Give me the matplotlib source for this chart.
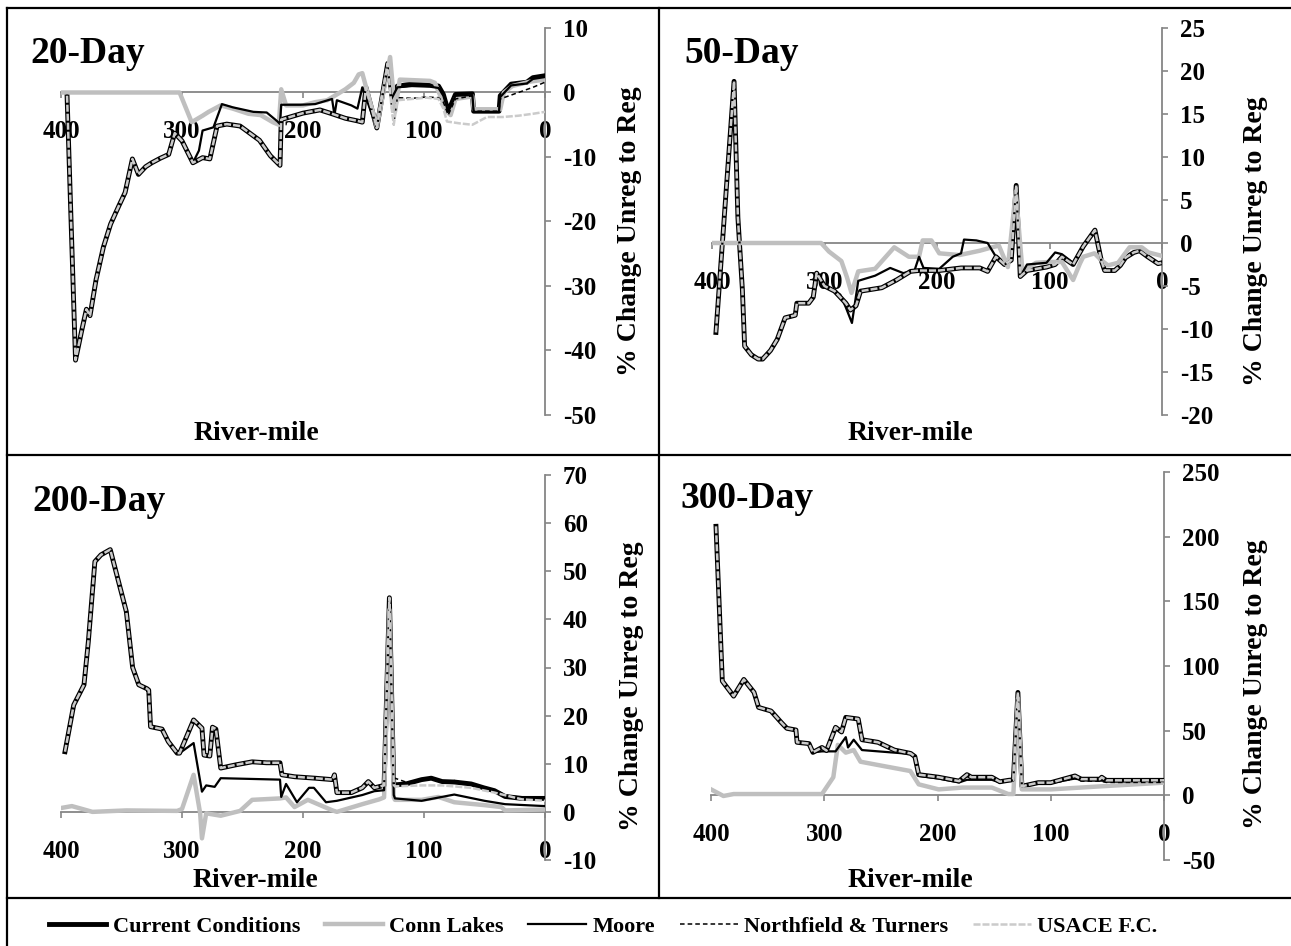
import matplotlib.pyplot as plt
from matplotlib.lines import Line2D

plt.rcParams['font.family'] = 'Liberation Serif'
plt.rcParams['font.weight'] = 'bold'
plt.rcParams['axes.unicode_minus'] = False

W, H = 1291, 946

# ---- 20-Day -------------------------------------------------------------
rm20 = [395, 388, 383, 379, 376, 371, 365, 359, 352, 347, 341, 336, 330, 325, 318, 311, 306, 300,
        291, 283, 277, 271, 263, 252, 236, 227, 219, 218, 200, 186, 176, 165, 155, 151, 148, 139,
        130, 126, 122, 110, 95, 88, 84, 80, 74, 60, 59, 38, 37, 28, 15, 10, 0]
cc20 = [-0.5, -41.5, -37.0, -33.6, -34.6, -29.0, -24.0, -20.4, -17.5, -15.5, -10.3, -12.7, -11.5,
        -10.9, -10.2, -9.6, -6.3, -7.5, -10.9, -10.1, -10.3, -5.2, -4.9, -5.2, -7.4, -9.8, -11.3,
        -4.2, -3.2, -2.7, -3.3, -4.0, -4.4, -4.6, 0.8, -5.5, 4.5, -1.0, 1.0, 1.3, 1.2, 1.0, -0.3,
        -2.9, -0.3, -0.2, -2.9, -2.9, -0.5, 1.3, 1.6, 2.3, 2.6]
conn20_rm = [400, 302, 292, 283, 278, 268, 258, 245, 235, 225, 220, 218, 214, 200, 190, 180, 172,
             165, 158, 154, 151, 139, 128, 124, 120, 95, 91, 81, 78, 74, 60, 59, 37, 34, 27, 12, 0]
conn20 = [0, 0, -4.6, -3.6, -3.0, -2.0, -2.5, -3.3, -3.5, -4.6, -5.0, 0.5, -2.0, -2.0, -1.5, -1.2,
          -0.3, 0.5, 1.5, 2.8, 3.0, -5.3, 5.5, -3.0, 2.0, 1.8, 1.5, -3.0, -3.5, -1.0, -0.6, -2.6,
          -2.6, 0.0, 1.0, 1.7, 2.0]
# scenario profiles below only list the reach where they leave current conditions
moore20_rm = [286, 283, 274, 267, 258, 241, 230, 221, 219, 218, 202, 190, 176, 174, 172, 160, 155,
              151, 139, 130, 127, 122, 110, 95, 88, 84, 80, 74, 60, 59, 38, 37, 28, 15, 10, 0]
moore20 = [-9.0, -5.9, -5.4, -1.8, -2.3, -3.0, -3.1, -4.5, -4.9, -1.9, -1.9, -1.8, -1.0, -3.5, -1.2,
           -2.0, -2.5, 0.8, -5.5, 4.0, -1.0, 0.8, 1.0, 0.9, 0.7, -0.5, -3.0, -0.5, -0.4, -3.0, -3.0,
           -0.7, 1.1, 1.4, 2.1, 2.4]
north20_rm = [127, 125, 122, 110, 98, 88, 84, 80, 74, 60, 59, 38, 37, 22, 10, 0]
north20 = [-2.0, -5.0, -0.8, -0.9, -0.7, -0.8, -1.5, -3.5, -1.0, -0.5, -2.9, -2.9, -1.0, 0.0, 0.8, 1.6]
usace20_rm = [127, 125, 122, 110, 98, 88, 84, 81, 70, 60, 48, 35, 22, 10, 0]
usace20 = [-2.0, -5.0, -1.2, -1.0, -0.8, -1.0, -2.5, -4.5, -4.8, -5.0, -3.8, -3.8, -3.6, -3.3, -3.0]

# ---- 50-Day -------------------------------------------------------------
rm50 = [396.5, 380.4, 377, 373, 371, 365, 359, 355, 348, 342, 335, 326, 324.6, 314, 310, 307, 300,
        291, 281, 277, 272, 268, 249, 236, 223.5, 216, 198, 178.6, 162, 155, 147.6, 140, 134,
        129.6, 126, 120, 102.7, 95, 89, 79, 70, 59.6, 54, 51, 42, 37, 32.4, 25, 20, 12.7, 3.5, 0]
cc50 = [-10.4, 18.8, 3.0, -5.4, -12.0, -13.0, -13.5, -13.5, -12.5, -11.2, -8.7, -8.4, -7.0, -7.0,
        -6.3, -3.5, -5.0, -5.6, -7.0, -7.8, -7.3, -5.6, -5.2, -4.3, -3.3, -3.2, -3.2, -2.9, -2.9,
        -3.3, -1.6, -2.5, -2.0, 6.7, -3.9, -3.2, -2.8, -2.5, -1.6, -2.5, -0.4, 1.5, -2.0, -3.2,
        -3.2, -2.6, -1.7, -1.1, -0.9, -1.6, -2.4, -2.3]
conn50_rm = [400, 310, 303, 296, 285, 280, 276, 270, 255, 238, 225, 216, 212.7, 205, 198, 180, 162,
             151, 145, 137, 130, 124, 112, 99, 89, 79, 73, 70, 60, 54, 48, 39, 28.8, 18, 12, 0]
conn50 = [0, 0, 0, -1.0, -2.1, -4.0, -5.8, -3.3, -3.0, -0.5, -1.6, -1.6, 0.3, 0.3, -1.2, -1.4, -0.9,
          -0.5, -0.3, -2.8, 6.0, -3.3, -2.3, -2.2, -2.2, -4.3, -2.4, -1.6, -1.2, -2.0, -2.6, -2.3,
          -0.5, -0.5, -1.1, -1.5]
moore50_rm = [286, 281, 275.6, 270, 255, 241.6, 230, 220, 216, 212, 198, 186, 178.6, 176, 165, 155,
              147.6, 140, 134, 129.6, 126, 120, 102.7, 95, 89, 79, 70, 59.6, 54, 51, 42, 37, 32.4,
              25, 20, 12.7, 3.5, 0]
moore50 = [-6.0, -7.5, -9.3, -4.4, -3.8, -2.9, -3.5, -3.2, -1.6, -2.9, -3.0, -1.6, -1.2, 0.4, 0.3,
           0.0, -1.6, -2.5, -2.0, 6.7, -3.9, -2.5, -2.3, -1.1, -1.3, -2.3, -0.4, 1.5, -2.0, -3.2,
           -3.2, -2.6, -1.7, -1.1, -0.9, -1.6, -2.4, -2.3]
north50_rm, north50 = [], []
usace50_rm, usace50 = [], []

# ---- 200-Day ------------------------------------------------------------
rm200 = [396.7, 389.5, 381, 377.4, 372, 367, 359.3, 346, 340.8, 335.7, 329, 327.5, 326, 316.5,
         311.3, 304, 302, 290.4, 283.5, 281.8, 277, 274.8, 272, 268, 255, 242, 230, 219, 217.4,
         207, 190, 175.6, 174, 172, 160, 151, 146, 141, 133, 128.6, 125, 115, 102, 94, 85, 74.8,
         61, 50.6, 41.7, 33, 19, 0]
cc200 = [12.5, 22.2, 26.4, 35.4, 52.0, 53.4, 54.5, 41.6, 30.0, 26.4, 25.6, 25.3, 17.7, 17.2, 14.6,
         12.2, 12.2, 19.1, 17.4, 11.8, 11.6, 17.6, 17.2, 9.1, 9.8, 10.4, 10.2, 10.2, 7.7, 7.3, 7.0,
         6.7, 7.7, 4.0, 4.0, 5.0, 6.3, 5.0, 5.5, 44.5, 5.6, 5.8, 6.7, 7.0, 6.3, 6.2, 5.8, 5.0, 4.4,
         3.2, 2.8, 2.8]
conn200_rm = [400, 391, 381, 374, 346, 304, 300, 290.4, 285, 283.5, 280, 268, 252, 242, 219, 214,
              207, 196, 175.6, 172, 151, 137, 133, 128.6, 125, 124, 102, 88, 75, 50, 36, 33, 0]
conn200 = [0.8, 1.2, 0.5, 0.0, 0.3, 0.2, 0.6, 7.7, -0.3, -5.5, -0.3, -0.8, 0.2, 2.5, 2.8, 3.0, 1.0,
           2.5, 0.3, 0.0, 1.6, 2.6, 3.0, 42.0, 3.0, 2.5, 2.5, 3.1, 2.0, 1.4, 1.0, 0.3, 0.5]
moore200_rm = [290.4, 283.5, 280, 273, 268, 219, 218, 214, 205, 195, 191, 181, 172, 151, 141, 133,
               128.6, 125, 124, 102, 75, 50, 33, 0]
moore200 = [14.3, 4.2, 5.5, 5.2, 7.0, 6.7, 3.1, 5.8, 2.0, 5.0, 5.0, 2.0, 2.3, 3.5, 4.3, 4.5, 44.0,
            3.5, 2.8, 2.3, 3.6, 2.3, 1.6, 1.2]
north200_rm = [124, 115, 102, 94, 85, 74.8, 61, 50.6, 41.7, 33, 19, 0]
north200 = [7.0, 6.2, 6.5, 6.8, 6.4, 6.5, 5.6, 5.2, 4.6, 3.5, 3.0, 2.6]
usace200_rm = [124, 102, 85, 61, 41.7, 19, 0]
usace200 = [5.3, 5.5, 5.5, 5.0, 4.0, 2.6, 2.3]

# ---- 300-Day ------------------------------------------------------------
rm300 = [395.6, 390, 380, 371, 362, 358, 347, 338, 333, 325, 324, 313.5, 310, 302, 298, 290, 284.7,
         281, 270, 266.7, 252.5, 238, 223.7, 220, 216.6, 199, 181, 174, 170, 152, 145, 137.5, 133,
         129, 125.5, 111, 100, 78.6, 73, 56.6, 55, 51, 0]
cc300 = [208, 88.3, 76.7, 89.6, 79.6, 68, 65.2, 56.4, 51.8, 50.5, 41, 40, 33.2, 37, 34.6, 52.6, 49,
         60.3, 59, 43, 41, 35, 32.4, 30, 16, 14, 11, 16, 14, 14, 10.5, 11.6, 12, 79.6, 7, 9.8, 9.8,
         15, 12.5, 12.5, 14, 11.6, 11.6]
conn300_rm = [400, 389, 380, 302, 292, 288, 281, 274, 268, 248, 224, 216.6, 199, 178, 152, 137.5,
              133, 129, 125.5, 100, 55, 0]
conn300 = [4.6, -0.5, 1, 1, 14, 39, 33, 35, 26, 22.7, 18.8, 8.5, 4.6, 6, 6, 1, 1, 75, 4.6, 4.6, 7, 9.8]
moore300_rm = [302, 290, 281, 279, 274, 266.7, 223.7, 220, 216.6, 199, 181, 174, 152, 145, 137.5,
               133, 129, 125.5, 111, 100, 78.6, 73, 56.6, 51, 0]
moore300 = [34, 34, 45, 37, 43, 35, 32, 29, 15, 13, 10, 12, 12, 10, 11, 11.5, 78, 7, 9.5, 9.5, 13,
            12, 11.5, 11, 11]
north300_rm = [125, 111, 100, 78.6, 73, 56.6, 51, 0]
north300 = [7, 9, 9, 13, 11, 11, 10, 10]
usace300_rm, usace300 = [], []

names = ['Current Conditions', 'Conn Lakes', 'Moore', 'Northfield & Turners', 'USACE F.C.']
styles = [dict(color='black', lw=3.5, zorder=3),
          dict(color='#BFBFBF', lw=3.2, zorder=4),
          dict(color='black', lw=1.6, zorder=5),
          dict(color='black', lw=1.1, ls=(0, (3, 2)), zorder=6),
          dict(color='#CBCBCB', lw=1.8, ls=(0, (2.8, 0.8)), zorder=7)]


def splice(base_rm, base_pc, tail_rm, tail_pc):
    # scenario = current conditions upstream, then its own values downstream
    if not tail_rm:
        return base_rm, base_pc
    keep = [i for i, r in enumerate(base_rm) if r > tail_rm[0]]
    return [base_rm[i] for i in keep] + tail_rm, [base_pc[i] for i in keep] + tail_pc


panels = [
    dict(title='20-Day', box=(61, 545, 28, 415), ylim=(-50, 10), step=10,
         title_xy=(30, 63), ylab_xy=(629, 231), xlab_xy=(256, 433),
         cc=(rm20, cc20), conn=(conn20_rm, conn20), moore=(moore20_rm, moore20),
         north=(north20_rm, north20), usace=(usace20_rm, usace20)),
    dict(title='50-Day', box=(712, 1162, 28, 415), ylim=(-20, 25), step=5,
         title_xy=(684, 63), ylab_xy=(1255, 241), xlab_xy=(910, 433),
         cc=(rm50, cc50), conn=(conn50_rm, conn50), moore=(moore50_rm, moore50),
         north=(north50_rm, north50), usace=(usace50_rm, usace50)),
    dict(title='200-Day', box=(61, 545, 475, 860), ylim=(-10, 70), step=10,
         title_xy=(32, 511), ylab_xy=(631, 686), xlab_xy=(255, 880),
         cc=(rm200, cc200), conn=(conn200_rm, conn200), moore=(moore200_rm, moore200),
         north=(north200_rm, north200), usace=(usace200_rm, usace200)),
    dict(title='300-Day', box=(711, 1164, 472, 860), ylim=(-50, 250), step=50,
         title_xy=(680, 508), ylab_xy=(1255, 684), xlab_xy=(910, 880),
         cc=(rm300, cc300), conn=(conn300_rm, conn300), moore=(moore300_rm, moore300),
         north=(north300_rm, north300), usace=(usace300_rm, usace300)),
]

fig = plt.figure(figsize=(W / 100, H / 100), dpi=100)
axis_gray = '#868686'

for p in panels:
    l, r, t, b = p['box']
    ax = fig.add_axes([l / W, 1 - b / H, (r - l) / W, (b - t) / H])
    ax.patch.set_alpha(0)
    cc_rm, cc_pc = p['cc']
    series = [(cc_rm, cc_pc), p['conn'],
              splice(cc_rm, cc_pc, *p['moore']),
              splice(cc_rm, cc_pc, *p['north']),
              splice(cc_rm, cc_pc, *p['usace'])]
    for (x, y), st in zip(series, styles):
        ax.plot(x, y, solid_joinstyle='round', **st)

    ax.set_xlim(400, 0)
    lo, hi = p['ylim']
    ax.set_ylim(lo, hi)
    ax.set_xticks([400, 300, 200, 100, 0])
    ax.set_yticks(range(lo, hi + 1, p['step']))
    ax.set_axisbelow(True)
    for side in ['top', 'left']:
        ax.spines[side].set_visible(False)
    ax.spines['bottom'].set_position(('data', 0))
    for side in ['bottom', 'right']:
        ax.spines[side].set_color(axis_gray)
        ax.spines[side].set_linewidth(1.3)
        ax.spines[side].set_zorder(1)
    ax.yaxis.tick_right()
    ax.tick_params(axis='y', direction='out', length=4, width=1.2, color=axis_gray,
                   labelsize=18, pad=9)
    ax.tick_params(axis='x', direction='out', length=4, width=1.2, color=axis_gray,
                   labelsize=18, pad=16)

    fig.text(p['title_xy'][0] / W, 1 - p['title_xy'][1] / H, p['title'], fontsize=27,
             ha='left', va='baseline')
    fig.text(p['ylab_xy'][0] / W, 1 - p['ylab_xy'][1] / H, '% Change Unreg to Reg',
             fontsize=20, rotation=90, ha='center', va='center')
    fig.text(p['xlab_xy'][0] / W, 1 - p['xlab_xy'][1] / H, 'River-mile', fontsize=20,
             ha='center', va='center')

# panel frame
for x0, y0, x1, y1 in [(7, 8, 1291, 8), (7, 8, 7, 946), (659, 8, 659, 898),
                       (7, 455, 1291, 455), (7, 898, 1291, 898)]:
    fig.add_artist(Line2D([x0 / W, x1 / W], [1 - y0 / H, 1 - y1 / H],
                          transform=fig.transFigure, color='black', lw=1.6))

handles = [Line2D([], [], **{k: v for k, v in st.items() if k != 'zorder'}) for st in styles]
fig.legend(handles, names, loc='center', bbox_to_anchor=(603 / W, 1 - 927 / H), ncol=5,
           frameon=False, fontsize=16, handlelength=2.6, handletextpad=0.3,
           columnspacing=1.1, borderaxespad=0, borderpad=0)

fig.savefig('out.png', dpi=100, facecolor='white')
